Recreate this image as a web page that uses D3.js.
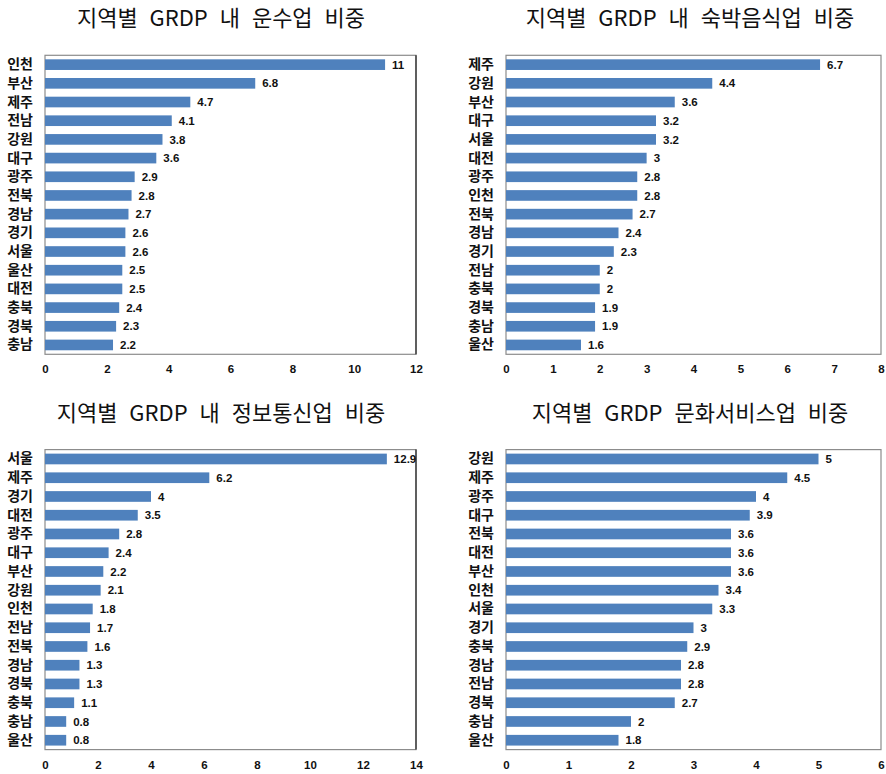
<!DOCTYPE html>
<html>
<head>
<meta charset="utf-8">
<script src="https://cdn.jsdelivr.net/npm/d3@7"></script>
<style>
  html, body { margin: 0; padding: 0; background: #fff; }
  svg { display: block; }
</style>
</head>
<body>
<svg id="chart" width="886" height="774"></svg>
<script>
// 운수업
const transportRegions = ["인천","부산","제주","전남","강원","대구","광주","전북","경남","경기","서울","울산","대전","충북","경북","충남"];
const transportValues  = [11, 6.8, 4.7, 4.1, 3.8, 3.6, 2.9, 2.8, 2.7, 2.6, 2.6, 2.5, 2.5, 2.4, 2.3, 2.2];
const transportTicks   = [0, 2, 4, 6, 8, 10, 12];

// 숙박음식업
const lodgingRegions = ["제주","강원","부산","대구","서울","대전","광주","인천","전북","경남","경기","전남","충북","경북","충남","울산"];
const lodgingValues  = [6.7, 4.4, 3.6, 3.2, 3.2, 3, 2.8, 2.8, 2.7, 2.4, 2.3, 2, 2, 1.9, 1.9, 1.6];
const lodgingTicks   = [0, 1, 2, 3, 4, 5, 6, 7, 8];

// 정보통신업
const ictRegions = ["서울","제주","경기","대전","광주","대구","부산","강원","인천","전남","전북","경남","경북","충북","충남","울산"];
const ictValues  = [12.9, 6.2, 4, 3.5, 2.8, 2.4, 2.2, 2.1, 1.8, 1.7, 1.6, 1.3, 1.3, 1.1, 0.8, 0.8];
const ictTicks   = [0, 2, 4, 6, 8, 10, 12, 14];

// 문화서비스업
const cultureRegions = ["강원","제주","광주","대구","전북","대전","부산","인천","서울","경기","충북","경남","전남","경북","충남","울산"];
const cultureValues  = [5, 4.5, 4, 3.9, 3.6, 3.6, 3.6, 3.4, 3.3, 3, 2.9, 2.8, 2.8, 2.7, 2, 1.8];
const cultureTicks   = [0, 1, 2, 3, 4, 5, 6];

const titles = [
  "지역별 GRDP 내 운수업 비중",
  "지역별 GRDP 내 숙박음식업 비중",
  "지역별 GRDP 내 정보통신업 비중",
  "지역별 GRDP 문화서비스업 비중"
];

const svg = d3.select("#chart");
const BAR = "#4f81bd";
const KFONT = "'Noto Sans CJK KR', 'Noto Sans', sans-serif";
const NFONT = "Arial, 'Liberation Sans', sans-serif";

function panel(cfg) {
  const { x0, x1, y0, y1, regions, values, ticks, title, titleX, titleY, rightDark } = cfg;
  const g = svg.append("g");

  const x = d3.scaleLinear().domain([ticks[0], ticks[ticks.length - 1]]).range([x0, x1]);
  const y = d3.scaleBand().domain(regions).range([y0, y1]).paddingInner(0.43).paddingOuter(0.215);

  // title
  g.append("text")
    .attr("x", titleX).attr("y", titleY)
    .attr("text-anchor", "middle")
    .attr("font-family", KFONT)
    .attr("font-size", 22)
    .attr("word-spacing", 7)
    .attr("fill", "#111")
    .text(title);

  // plot frame
  g.append("rect")
    .attr("x", x0).attr("y", y0)
    .attr("width", x1 - x0).attr("height", y1 - y0)
    .attr("fill", "none")
    .attr("stroke", "#8c8c8c")
    .attr("stroke-width", 1.2);
  if (rightDark) {
    g.append("line")
      .attr("x1", x1).attr("x2", x1).attr("y1", y0).attr("y2", y1)
      .attr("stroke", "#222").attr("stroke-width", 1.2);
  }

  // bars
  const rows = regions.map((r, i) => ({ r, v: values[i] }));
  g.selectAll("rect.bar").data(rows).enter().append("rect")
    .attr("class", "bar")
    .attr("x", x(0))
    .attr("y", d => y(d.r))
    .attr("width", d => x(d.v) - x(0))
    .attr("height", y.bandwidth())
    .attr("fill", BAR);

  // value labels
  g.selectAll("text.val").data(rows).enter().append("text")
    .attr("class", "val")
    .attr("x", d => x(d.v) + 7)
    .attr("y", d => y(d.r) + y.bandwidth() / 2)
    .attr("dy", "0.36em")
    .attr("font-family", NFONT)
    .attr("font-weight", "bold")
    .attr("font-size", 11.5)
    .attr("fill", "#111")
    .text(d => d.v);

  // category axis
  const yAxis = d3.axisLeft(y).tickSize(0).tickPadding(12);
  const ya = g.append("g").attr("transform", `translate(${x0},0)`).call(yAxis);
  ya.select(".domain").remove();
  ya.selectAll("text")
    .attr("font-family", KFONT)
    .attr("font-weight", "bold")
    .attr("font-size", 14)
    .attr("fill", "#111");

  // value axis
  const xAxis = d3.axisBottom(x).tickValues(ticks).tickSize(0).tickPadding(11).tickFormat(d3.format("d"));
  const xa = g.append("g").attr("transform", `translate(0,${y1})`).call(xAxis);
  xa.select(".domain").remove();
  xa.selectAll("text")
    .attr("font-family", NFONT)
    .attr("font-weight", "bold")
    .attr("font-size", 11.5)
    .attr("fill", "#111");
}

panel({ x0: 45, x1: 416, y0: 55.3, y1: 354.3, regions: transportRegions, values: transportValues, ticks: transportTicks, title: titles[0], titleX: 221, titleY: 26, rightDark: true });
panel({ x0: 506, x1: 881, y0: 55.3, y1: 354.3, regions: lodgingRegions, values: lodgingValues, ticks: lodgingTicks, title: titles[1], titleX: 690, titleY: 26, rightDark: false });
panel({ x0: 45, x1: 416, y0: 449.6, y1: 749.6, regions: ictRegions, values: ictValues, ticks: ictTicks, title: titles[2], titleX: 221, titleY: 421, rightDark: true });
panel({ x0: 506, x1: 881, y0: 449.6, y1: 749.6, regions: cultureRegions, values: cultureValues, ticks: cultureTicks, title: titles[3], titleX: 690, titleY: 421, rightDark: false });
</script>
</body>
</html>
